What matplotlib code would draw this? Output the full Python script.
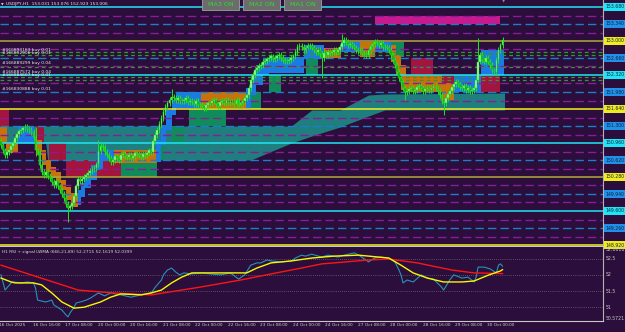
import matplotlib
matplotlib.use('Agg')
import matplotlib.pyplot as plt
from matplotlib.patches import Rectangle
from matplotlib.transforms import blended_transform_factory
import numpy as np

W, H = 625, 332
BG = '#2b0e3b'

# USDJPY H1 closes, one per bar (bar 0 ~ 16 Oct 01:00)
closes = [
    150.92, 150.82, 150.72, 150.78, 150.82, 150.90, 150.96, 151.06, 151.14, 151.20,
    151.22, 151.26, 151.28, 151.24, 151.22, 151.18, 151.08, 150.82, 150.78, 150.52,
    150.38, 150.32, 150.38, 150.30, 150.26, 150.18, 150.12, 150.20, 150.10, 150.02,
    149.94, 149.86, 149.74, 149.66, 149.70, 149.76, 149.90, 150.10, 150.24, 150.20,
    150.24, 150.28, 150.32, 150.36, 150.40, 150.44, 150.46, 150.54, 150.80, 150.90,
    150.88, 150.78, 150.72, 150.66, 150.58, 150.62, 150.70, 150.66, 150.62, 150.72,
    150.74, 150.70, 150.68, 150.72, 150.66, 150.70, 150.76, 150.74, 150.72, 150.68,
    150.74, 150.72, 150.76, 150.82, 150.78, 151.00, 151.12, 151.22, 151.34, 151.46,
    151.58, 151.68, 151.76, 151.82, 151.88, 151.86, 151.82, 151.86, 151.80, 151.80,
    151.82, 151.86, 151.78, 151.80, 151.78, 151.74, 151.80, 151.72, 151.72, 151.70,
    151.66, 151.72, 151.76, 151.76, 151.80, 151.82, 151.74, 151.70, 151.78, 151.80,
    151.76, 151.82, 151.76, 151.78, 151.78, 151.74, 151.82, 151.72, 151.76, 151.80,
    151.86, 151.92, 152.06, 152.22, 152.32, 152.42, 152.46, 152.50, 152.52, 152.58,
    152.60, 152.64, 152.66, 152.70, 152.64, 152.66, 152.70, 152.72, 152.66, 152.62,
    152.60, 152.60, 152.62, 152.66, 152.70, 152.78, 152.88, 152.90, 152.88, 152.82,
    152.86, 152.90, 152.90, 152.86, 152.82, 152.78, 152.82, 152.74, 152.66, 152.76,
    152.72, 152.78, 152.76, 152.78, 152.82, 152.78, 152.82, 152.88, 152.96, 153.02,
    152.98, 152.92, 152.94, 152.90, 152.86, 152.82, 152.80, 152.82, 152.76, 152.74,
    152.72, 152.82, 152.90, 152.94, 152.98, 152.96, 152.92, 152.96, 152.88, 152.88,
    152.86, 152.82, 152.72, 152.62, 152.52, 152.38, 152.26, 152.18, 152.06, 151.98,
    152.00, 152.04, 152.06, 152.00, 152.02, 152.08, 152.10, 152.06, 152.00, 152.04,
    152.06, 152.02, 152.06, 152.10, 152.06, 152.00, 151.92, 151.80, 151.76, 151.86,
    151.94, 152.00, 152.08, 152.14, 152.18, 152.14, 152.08, 152.06, 152.10, 152.02,
    152.06, 152.00, 152.02, 152.06, 152.22, 152.58, 152.72, 152.62, 152.58, 152.66,
    152.58, 152.52, 152.42, 152.38, 152.62, 152.82, 152.92, 153.01,
]
first_open = 151.00
# long wicks
spike_bars = [17, 33, 48, 84, 158, 168, 199, 218, 235, 247]
spike_lo = [150.70, 149.38, 150.52, 151.80, 152.26, 152.86, 151.82, 151.52, 152.20, 152.92]
spike_hi = [151.28, 149.80, 151.02, 152.04, 152.80, 153.14, 152.10, 151.84, 153.06, 153.08]

# horizontal levels
solid_levels = [153.68, 153.00, 152.32, 151.64, 150.96, 150.28, 149.60, 148.92]
solid_kind = ['c', 'o', 'c', 'y', 'c', 'o', 'c', 'y']
blue_levels = [153.34, 152.66, 151.98, 151.30, 150.62, 149.94, 149.26]
mag_levels = [153.51, 153.17, 152.83, 152.49, 152.15, 151.81, 151.47,
              151.13, 150.79, 150.45, 150.11, 149.77, 149.43, 149.09]
order_levels = [152.78, 152.73, 152.48, 152.27, 152.22]
order_text = ['#166893163 buy 0.01', '#166892906 buy 0.01', '#166889299 buy 0.04',
              '#166887572 buy 0.04', '#166884607 buy 0.01', '#166830888 buy 0.01']
order_text_y = [152.82, 152.76, 152.56, 152.38, 152.32, 152.04]

# teal cloud
cloud_x = [-0.5, 22, 23, 123, 143, 153, 167, 181, 189, 248]
cloud_lo = [150.96, 150.96, 150.62, 150.62, 150.96, 151.10, 151.28, 151.50, 151.62, 151.62]
cloud_hi = [151.30, 151.30, 151.30, 151.30, 151.30, 151.62, 151.62, 151.92, 151.94, 151.96]

# coloured zones, drawn in order: start bar, end bar, low, high, kind
zone_b0 = [-0.5, 17, 23.5, 32, 59, 77, 84, 92.5, 123, 132, 150, 192, 245, 202, 236.5,
           -0.5, 2.5, 8.5,
           17, 20, 22, 24.5, 27, 29.5, 32, 34.5,
           38, 39.5, 41.5, 44.5, 47.5, 50, 55.5,
           76.5, 79, 81.5, 84, 86, 98.5,
           120.5, 123, 125.5, 129, 132, 149, 159, 167.5, 177, 184,
           192, 194.5, 197, 199.5, 217, 217, 223, 236.5, 184]
zone_b1 = [4, 21, 32, 59, 77, 81, 90, 111, 128, 138, 156, 198.5, 247.5, 213, 246,
           3, 8.5, 16,
           20, 22, 24.5, 27, 29.5, 32, 34.5, 38,
           39.5, 41.5, 44.5, 47.5, 50, 55.5, 77,
           79, 81.5, 84, 86, 98.5, 120.5,
           123, 125.5, 129, 132, 149, 159, 167.5, 177, 184, 192,
           194.5, 197, 199.5, 223, 223, 223, 236.5, 247.5, 246]
zone_lo = [151.30, 150.96, 150.62, 150.28, 150.28, 150.62, 150.96, 151.30, 151.64, 151.98,
           152.32, 152.68, 152.32, 152.32, 151.98,
           150.96, 150.76, 150.96,
           150.72, 150.52, 150.38, 150.26, 150.16, 150.02, 149.82, 149.68,
           149.72, 149.88, 150.06, 150.22, 150.42, 150.62, 150.56,
           150.58, 150.92, 151.22, 151.52, 151.66, 151.66,
           151.66, 151.92, 152.12, 152.32, 152.36, 152.66, 152.66, 152.78, 152.68, 152.78,
           152.58, 152.32, 152.02, 151.98, 151.82, 152.16, 151.98, 152.32, 153.34]
zone_hi = [151.64, 151.30, 150.96, 150.62, 150.62, 150.96, 151.30, 151.64, 151.98, 152.32,
           152.66, 152.98, 152.48, 152.66, 152.32,
           151.28, 150.96, 151.30,
           151.02, 150.82, 150.62, 150.48, 150.38, 150.22, 150.08, 149.96,
           150.02, 150.16, 150.32, 150.52, 150.78, 150.82, 150.82,
           151.02, 151.32, 151.62, 151.82, 151.98, 151.98,
           152.06, 152.32, 152.52, 152.66, 152.68, 152.92, 152.86, 152.98, 152.98, 152.98,
           152.92, 152.72, 152.52, 152.32, 151.98, 152.32, 152.32, 152.82, 153.50]
zone_kind = ['R', 'R', 'R', 'R', 'G', 'G', 'G', 'G', 'G', 'G', 'G', 'G', 'G', 'R', 'R',
             'O', 'O', 'B',
             'O', 'O', 'O', 'O', 'O', 'O', 'O', 'O',
             'B', 'B', 'B', 'B', 'B', 'B', 'O',
             'B', 'B', 'B', 'B', 'B', 'O',
             'B', 'B', 'B', 'B', 'B', 'B', 'O', 'B', 'O', 'B',
             'O', 'O', 'O', 'O', 'O', 'R', 'B', 'B', 'P']

# time axis
tick_bars = [-1.5, 15, 31, 47, 63, 79, 95, 111, 127, 143, 159, 175, 191, 207, 223, 239]
tick_labels = ['16 Oct 2025', '16 Oct 16:00', '17 Oct 08:00', '20 Oct 00:00', '20 Oct 16:00',
               '21 Oct 08:00', '22 Oct 00:00', '22 Oct 16:00', '23 Oct 08:00', '24 Oct 00:00',
               '24 Oct 16:00', '27 Oct 08:00', '28 Oct 00:00', '28 Oct 16:00', '29 Oct 08:00',
               '30 Oct 00:00']

# RSI(666) with LWMA signals
rsi_bars = [0, 2, 5, 6, 10, 13, 16, 17, 18, 22, 25, 26, 30, 32, 33, 34, 36, 37, 39, 42,
            44, 48, 51, 54, 59, 64, 69, 74, 76, 79, 80, 82, 84, 86, 88, 90, 94, 99, 103, 108,
            113, 117, 120, 123, 126, 128, 131, 133, 138, 143, 145, 148, 150, 153, 158, 161,
            166, 169, 174, 177, 181, 184, 187, 191, 194, 196, 197, 198, 200, 203, 207, 210,
            213, 217, 218, 221, 223, 227, 230, 233, 234, 235, 238, 241, 244, 245, 246, 247]
rsi_vals = [52.00, 51.53, 51.75, 51.78, 51.75, 51.78, 51.75, 51.59, 51.22, 51.16,
            51.22, 51.07, 50.91, 50.76, 50.70, 50.82, 51.00, 51.13, 51.16, 51.22,
            51.28, 51.44, 51.35, 51.44, 51.38, 51.31, 51.38, 51.44, 51.62, 51.84,
            52.00, 52.15, 52.21, 52.09, 52.00, 52.06, 52.03, 52.06, 52.03, 52.00,
            52.06, 51.87, 52.00, 52.30, 52.37, 52.37, 52.46, 52.43, 52.40, 52.43,
            52.52, 52.61, 52.58, 52.64, 52.55, 52.61, 52.55, 52.61, 52.68, 52.58,
            52.40, 52.52, 52.55, 52.52, 52.40, 52.15, 52.00, 51.75, 51.84, 51.78,
            52.00, 51.90, 51.87, 51.62, 51.53, 51.84, 52.00, 51.90, 51.93, 51.78,
            51.93, 52.24, 52.24, 52.18, 52.06, 52.30, 52.34, 52.27]
sig_bars = [0, 5, 7, 16, 20, 25, 30, 36, 41, 49, 54, 59, 69, 74, 79, 84, 89, 94, 118, 121,
            126, 133, 143, 153, 164, 176, 191, 197, 203, 210, 218, 227, 233, 240, 246, 247]
sig_vals = [51.90, 51.78, 51.75, 51.75, 51.69, 51.44, 51.16, 50.97, 51.00, 51.16,
            51.31, 51.41, 51.38, 51.44, 51.53, 51.75, 51.93, 52.06, 52.06, 52.06,
            52.21, 52.37, 52.43, 52.52, 52.58, 52.61, 52.52, 52.30, 52.06, 51.90,
            51.78, 51.78, 51.81, 51.99, 52.12, 52.16]
slow_bars = [0, 38, 55, 74, 98, 118, 138, 148, 158, 164, 181, 191, 205, 222, 233, 247]
slow_vals = [52.30, 51.53, 51.44, 51.38, 51.62, 51.84, 52.09, 52.21, 52.34, 52.37,
             52.46, 52.49, 52.37, 52.15, 52.06, 52.04]
rsi_min, rsi_max = 50.5721, 52.8618
rsi_grid = [52.5, 52.0, 51.5, 51.0]

zone_colors = {'R': '#a3153c', 'G': '#0f8c5a', 'B': '#1a7be6', 'O': '#c8720c', 'P': '#c8198e'}
level_colors = {'c': '#1ee6f5', 'o': '#b4a83a', 'y': '#f5f01e'}
box_colors = {'c': '#1ee6f5', 'o': '#f0ec1e', 'y': '#f0ec1e'}

fig = plt.figure(figsize=(W / 100, H / 100), dpi=100, facecolor=BG)


def px_axes(x0, y0, x1, y1):
    return fig.add_axes([x0 / W, 1 - y1 / H, (x1 - x0) / W, (y1 - y0) / H])


ax = px_axes(0, 0, 603, 246)
ar = px_axes(0, 247, 603, 321)
for a in (ax, ar):
    a.set_facecolor(BG)
    a.set_xlim(-0.5, 296.5)
    a.set_xticks([])
    a.set_yticks([])
    for s in a.spines.values():
        s.set_visible(False)
    a.spines['right'].set_visible(True)
    a.spines['right'].set_color('#b4b4b4')
    a.spines['bottom'].set_visible(True)
    a.spines['bottom'].set_color('#c8c8c8')
    a.spines['right'].set_linewidth(0.8)
    a.spines['bottom'].set_linewidth(0.8)
ax.set_ylim(148.90, 153.82)
ar.set_ylim(rsi_min, rsi_max)

# cloud and zones
ax.fill_between(cloud_x, cloud_lo, cloud_hi, color='#1f7f7e', lw=0, zorder=1)
for b0, b1, lo, hi, k in zip(zone_b0, zone_b1, zone_lo, zone_hi, zone_kind):
    ax.bar(b0, hi - lo, width=b1 - b0, bottom=lo, align='edge',
           color=zone_colors[k], lw=0, zorder=2)

# levels
for lv in mag_levels:
    ax.axhline(lv, color='#8a1c9a', lw=1.0, ls=(0, (6, 3)), zorder=3)
for lv in blue_levels:
    ax.axhline(lv, color='#1f7ec8', lw=1.0, ls=(0, (6, 3)), zorder=3)
for lv, k in zip(solid_levels, solid_kind):
    ax.axhline(lv, color=level_colors[k], lw=1.1, zorder=3)
for lv in order_levels:
    ax.axhline(lv, color='#2f9a2f', lw=0.9, ls=(0, (3, 2.5)), zorder=3)

# candles
bars = np.arange(len(closes))
c = np.array(closes)
o = np.r_[first_open, c[:-1]]
hi = np.maximum(o, c) + 0.05
lo = np.minimum(o, c) - 0.05
for b, l, h in zip(spike_bars, spike_lo, spike_hi):
    lo[b] = min(lo[b], l)
    hi[b] = max(hi[b], h)
ax.vlines(bars, lo, hi, color='#1ee01e', lw=0.75, zorder=5)
up = c >= o
ax.bar(bars[up], (c - o)[up] + 0.01, bottom=o[up] - 0.005, width=0.85, color='#b0f7b0',
       edgecolor='#14d214', lw=0.35, zorder=6)
ax.bar(bars[~up], (o - c)[~up] + 0.01, bottom=c[~up] - 0.005, width=0.85, color='#0ea80e',
       edgecolor='#2ae82a', lw=0.35, zorder=6)

# price labels on the right
tr = blended_transform_factory(ax.transAxes, ax.transData)
for lv, k in zip(solid_levels, solid_kind):
    ax.text(1.0036, lv, f'{lv:.3f}', transform=tr, fontsize=3.3, color='#102040',
            va='center', ha='left', clip_on=False, zorder=10,
            bbox=dict(boxstyle='square,pad=0.25', fc=box_colors[k], ec='none'))
for lv in blue_levels:
    ax.text(1.0036, lv, f'{lv:.3f}', transform=tr, fontsize=3.3, color='#102040',
            va='center', ha='left', clip_on=False, zorder=10,
            bbox=dict(boxstyle='square,pad=0.25', fc='#2090e8', ec='none'))

# order labels
for t, y in zip(order_text, order_text_y):
    ax.text(0.003, y, t, transform=tr, fontsize=3.2, color='#ececec', va='center',
            ha='left', zorder=9)

# RSI panel
for v in rsi_grid:
    ar.axhline(v, color='#8a8a8a', lw=0.5, ls=(0, (1, 2)))
ar.plot(rsi_bars, rsi_vals, color='#2396b6', lw=0.8)
ar.plot(slow_bars, slow_vals, color='#ff1414', lw=1.0)
ar.plot(sig_bars, sig_vals, color='#f8f800', lw=1.0)
trr = blended_transform_factory(ar.transAxes, ar.transData)
ar.text(1.005, rsi_max, f'{rsi_max:.4f}', transform=trr, fontsize=3.3, color='#c8c8c8',
        va='top', ha='left', clip_on=False)
ar.text(1.005, rsi_min, f'{rsi_min:.4f}', transform=trr, fontsize=3.3, color='#c8c8c8',
        va='bottom', ha='left', clip_on=False)
for v in rsi_grid:
    ar.text(1.005, v, f'{v:g}', transform=trr, fontsize=3.3, color='#c8c8c8',
            va='center', ha='left', clip_on=False)
ar.text(0.004, 0.93, 'H1 RSI + signal LWMA (666,21,89) 52.2715 52.1619 52.0399',
        transform=ar.transAxes, fontsize=3.1, color='#d8d8d8', va='center', ha='left')

# time axis
trt = blended_transform_factory(ar.transData, ar.transAxes)
for b, t in zip(tick_bars, tick_labels):
    ar.text(b + 0.6, -0.025, t, transform=trt, fontsize=3.1, color='#d0d0d0',
            va='top', ha='left', clip_on=False)

# header text and buttons
fig.text(1 / W, 1 - 4.5 / H, '\u25bc', fontsize=2.5, color='#e0e0e0', va='center', ha='left')
fig.text(6 / W, 1 - 4.5 / H, 'USDJPY,H1  153.031 153.076 152.923 153.006', fontsize=3.2,
         color='#e8e8e8', va='center', ha='left')
fig.text(504 / W, 1 - 1.5 / H, '\u25bc', fontsize=3, color='#909090', va='center', ha='center')
for x0, lab in zip([202, 243, 284], ['MA3 ON', 'MA2 ON', 'MA1 ON']):
    fig.add_artist(Rectangle((x0 / W, 1 - 9.5 / H), 37 / W, 10 / H, transform=fig.transFigure,
                             fc='#6c6c6c', ec='#a0a0a0', lw=0.6))
    fig.text((x0 + 18.5) / W, 1 - 4.5 / H, lab, fontsize=4.6, color='#30dc30',
             va='center', ha='center', zorder=5)

fig.savefig('out.png', dpi=100, facecolor=BG)
